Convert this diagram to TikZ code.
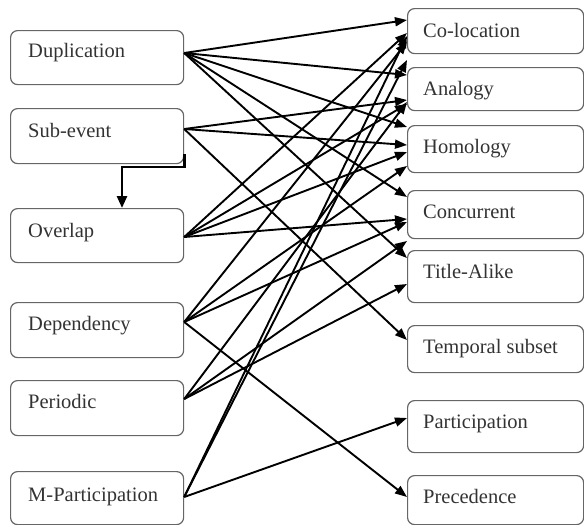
\documentclass[tikz,border=0pt]{standalone}
\usepackage{fontspec}
\setmainfont{Liberation Serif}
\usetikzlibrary{arrows.meta}
\begin{document}
\begin{tikzpicture}[x=1pt,y=-1pt,
  box/.style={draw=black!60, line width=1.2pt, rounded corners=7pt, anchor=north west, inner sep=0pt},
  lbox/.style={box, minimum width=173pt},
  rbox/.style={box, minimum width=176pt},
  txt/.style={anchor=base west, inner sep=0pt, text=black!80, font=\fontsize{20.5}{24}\selectfont},
  conn/.style={line width=1.9pt, -{Triangle[length=12pt,width=9pt]}},
  elbow/.style={line width=2.6pt, -{Triangle[length=12pt,width=10pt]}}]
\useasboundingbox (0,0) rectangle (584,525);
% left boxes
\node[lbox, minimum height=54pt] (dup) at (10,30) {};
\node[lbox, minimum height=55pt] (sub) at (10,108) {};
\node[lbox, minimum height=54pt] (ovl) at (10,208) {};
\node[lbox, minimum height=55pt] (dep) at (10,302) {};
\node[lbox, minimum height=55pt] (per) at (10,380) {};
\node[lbox, minimum height=53pt] (mpa) at (10,471) {};
\node[txt] (dupt) at (28,57) {Duplication};
\node[txt] (subt) at (28,137) {Sub-event};
\node[txt] (ovlt) at (28,237) {Overlap};
\node[txt] (dept) at (28,330) {Dependency};
\node[txt] (pert) at (28,408) {Periodic};
\node[txt] (mpat) at (28,501) {M-Participation};
% right boxes
\node[rbox, minimum height=45pt] (colo) at (407,8) {};
\node[rbox, minimum height=43pt] (anal) at (407,67) {};
\node[rbox, minimum height=47pt] (homo) at (407,125) {};
\node[rbox, minimum height=48pt] (conc) at (407,190) {};
\node[rbox, minimum height=52pt] (titl) at (407,250) {};
\node[rbox, minimum height=47pt] (temp) at (407,325) {};
\node[rbox, minimum height=52pt] (part) at (407,400) {};
\node[rbox, minimum height=49pt] (prec) at (407,475) {};
\node[txt] (colot) at (423,37) {Co-location};
\node[txt] (analt) at (423,95) {Analogy};
\node[txt] (homot) at (423,153) {Homology};
\node[txt] (conct) at (423,218) {Concurrent};
\node[txt] (titlt) at (423,278) {Title-Alike};
\node[txt] (tempt) at (423,353) {Temporal subset};
\node[txt] (partt) at (423,428) {Participation};
\node[txt] (prect) at (423,503) {Precedence};
% Duplication
\draw[conn] (dup.east |- 0,53) -- (colo.west |- 0,20);
\draw[conn] (dup.east |- 0,53) -- (anal.west |- 0,75);
\draw[conn] (dup.east |- 0,53) -- (homo.west |- 0,127);
\draw[conn] (dup.east |- 0,53) -- (conc.west |- 0,197);
\draw[conn] (dup.east |- 0,53) -- (titl.west |- 0,258);
% Sub-event
\draw[conn] (sub.east |- 0,129) -- (anal.west |- 0,100);
\draw[conn] (sub.east |- 0,129) -- (homo.west |- 0,145);
\draw[conn] (sub.east |- 0,129) -- (temp.west |- 0,340);
\draw[elbow] (sub.east |- 0,154) |- (122,167) -- (ovl.north -| 122,0);
% Overlap
\draw[conn] (ovl.east |- 0,237) -- (colo.west |- 0,33);
\draw[conn] (ovl.east |- 0,237) -- (anal.west |- 0,104);
\draw[conn] (ovl.east |- 0,237) -- (homo.west |- 0,152);
\draw[conn] (ovl.east |- 0,237) -- (conc.west |- 0,219);
% Dependency
\draw[conn] (dep.east |- 0,322) -- (colo.west |- 0,42);
\draw[conn] (dep.east |- 0,322) -- (homo.west |- 0,166);
\draw[conn] (dep.east |- 0,322) -- (conc.west |- 0,222);
\draw[conn] (dep.east |- 0,322) -- (prec.west |- 0,497);
% Periodic
\draw[conn] (per.east |- 0,399) -- (anal.west |- 0,102);
\draw[conn] (per.east |- 0,399) -- (conc.west |- 0,241);
\draw[conn] (per.east |- 0,399) -- (titl.west |- 0,284);
% M-Participation
\draw[conn] (mpa.east |- 0,497) -- (colo.west |- 0,36);
\draw[conn] (mpa.east |- 0,497) -- (anal.west |- 0,60);
\draw[conn] (mpa.east |- 0,497) -- (part.west |- 0,418);
\end{tikzpicture}
\end{document}
